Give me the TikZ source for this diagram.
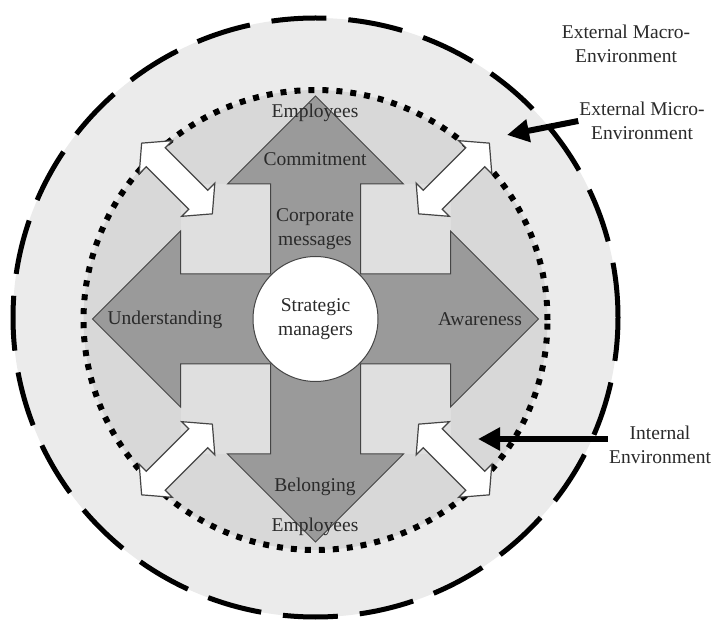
\documentclass[tikz,border=0pt]{standalone}
\usepackage{fontspec}
\setmainfont{Liberation Serif}
\usetikzlibrary{arrows.meta}
\definecolor{ringgray}{HTML}{EBEBEB}
\definecolor{innergray}{HTML}{D8D8D8}
\definecolor{sqgray}{HTML}{DFDFDF}
\definecolor{crossgray}{HTML}{9A9A9A}
\definecolor{edgegray}{HTML}{454545}
\definecolor{txtgray}{HTML}{2A2A2A}
\begin{document}
\begin{tikzpicture}[x=1pt,y=-1pt,
  lbl/.style={text=txtgray, inner sep=1pt, align=center, font=\fontsize{19.5}{23.5}\selectfont},
  outerring/.style={fill=ringgray, draw=black, line width=5pt, dash pattern=on 55pt off 22pt},
  innerring/.style={fill=innergray, draw=black, line width=6pt, dash pattern=on 6pt off 8pt},
  crossshape/.style={fill=crossgray, draw=edgegray, line width=1pt, line join=miter},
  dblarrow/.style={fill=white, draw=edgegray, line width=1.2pt, line join=miter},
  bigarrow/.style={draw=black, line width=6pt, -{Triangle[length=22pt,width=22pt]}}
]
\path[use as bounding box, fill=white] (0,0) rectangle (713,620);

% environments
\path[outerring] (315.5,317.5) ellipse [x radius=302.5pt, y radius=299.5pt];
\path[innerring] (315.5,320) ellipse [x radius=232pt, y radius=230pt];

\begin{scope}[shift={(315.5,319)}]
  % light squares between arms
  \fill[sqgray] (45,45) rectangle (135,135);
  \fill[sqgray] (-45,45) rectangle (-135,135);
  \fill[sqgray] (45,-45) rectangle (135,-135);
  \fill[sqgray] (-45,-45) rectangle (-135,-135);
  % four-way arrow
  \path[crossshape] (-45,-135) -- (-88,-135) -- (0,-223) -- (88,-135) -- (45,-135) -- (45,-45)
    -- (135,-45) -- (135,-88) -- (223,0) -- (135,88) -- (135,45) -- (45,45)
    -- (45,135) -- (88,135) -- (0,223) -- (-88,135) -- (-45,135) -- (-45,45)
    -- (-135,45) -- (-135,88) -- (-223,0) -- (-135,-88) -- (-135,-45) -- (-45,-45) -- cycle;
  % double arrows
  \foreach \dx/\dy/\ang in {-138.5/-140.5/-45, 138.5/-140.5/45, -138.5/140.5/45, 138.5/140.5/-45}{
    \begin{scope}[shift={(\dx,\dy)}, rotate=\ang]
      \path[dblarrow] (50,0) -- (30,23.5) -- (30,13.5) -- (-30,13.5) -- (-30,23.5) -- (-50,0)
        -- (-30,-23.5) -- (-30,-13.5) -- (30,-13.5) -- (30,-23.5) -- cycle;
    \end{scope}
  }
  % centre
  \node[circle, draw=edgegray, line width=1pt, fill=white, minimum size=125pt, lbl] (sm) at (0,0) {Strategic\\managers};
\end{scope}

% labels on the arrows
\node[lbl] (emptop) at (315,113) {Employees};
\node[lbl] (commit) at (315,159) {Commitment};
\node[lbl] (corp) at (315,229) {Corporate\\messages};
\node[lbl] (underst) at (165,320) {Understanding};
\node[lbl] (aware) at (480,319) {Awareness};
\node[lbl] (belong) at (315,487) {Belonging};
\node[lbl] (empbot) at (315,527) {Employees};

% environment labels
\node[lbl] (macro) at (626,44) {External Macro-\\Environment};
\node[lbl] (micro) at (642,121) {External Micro-\\Environment};
\node[lbl] (internal) at (660,445) {Internal\\Environment};

\coordinate (microtip) at (507,135);
\coordinate (inttip) at (478,439);
\draw[bigarrow] (micro.west) -- (microtip);
\draw[bigarrow] (internal.west |- inttip) -- (inttip);
\end{tikzpicture}
\end{document}
